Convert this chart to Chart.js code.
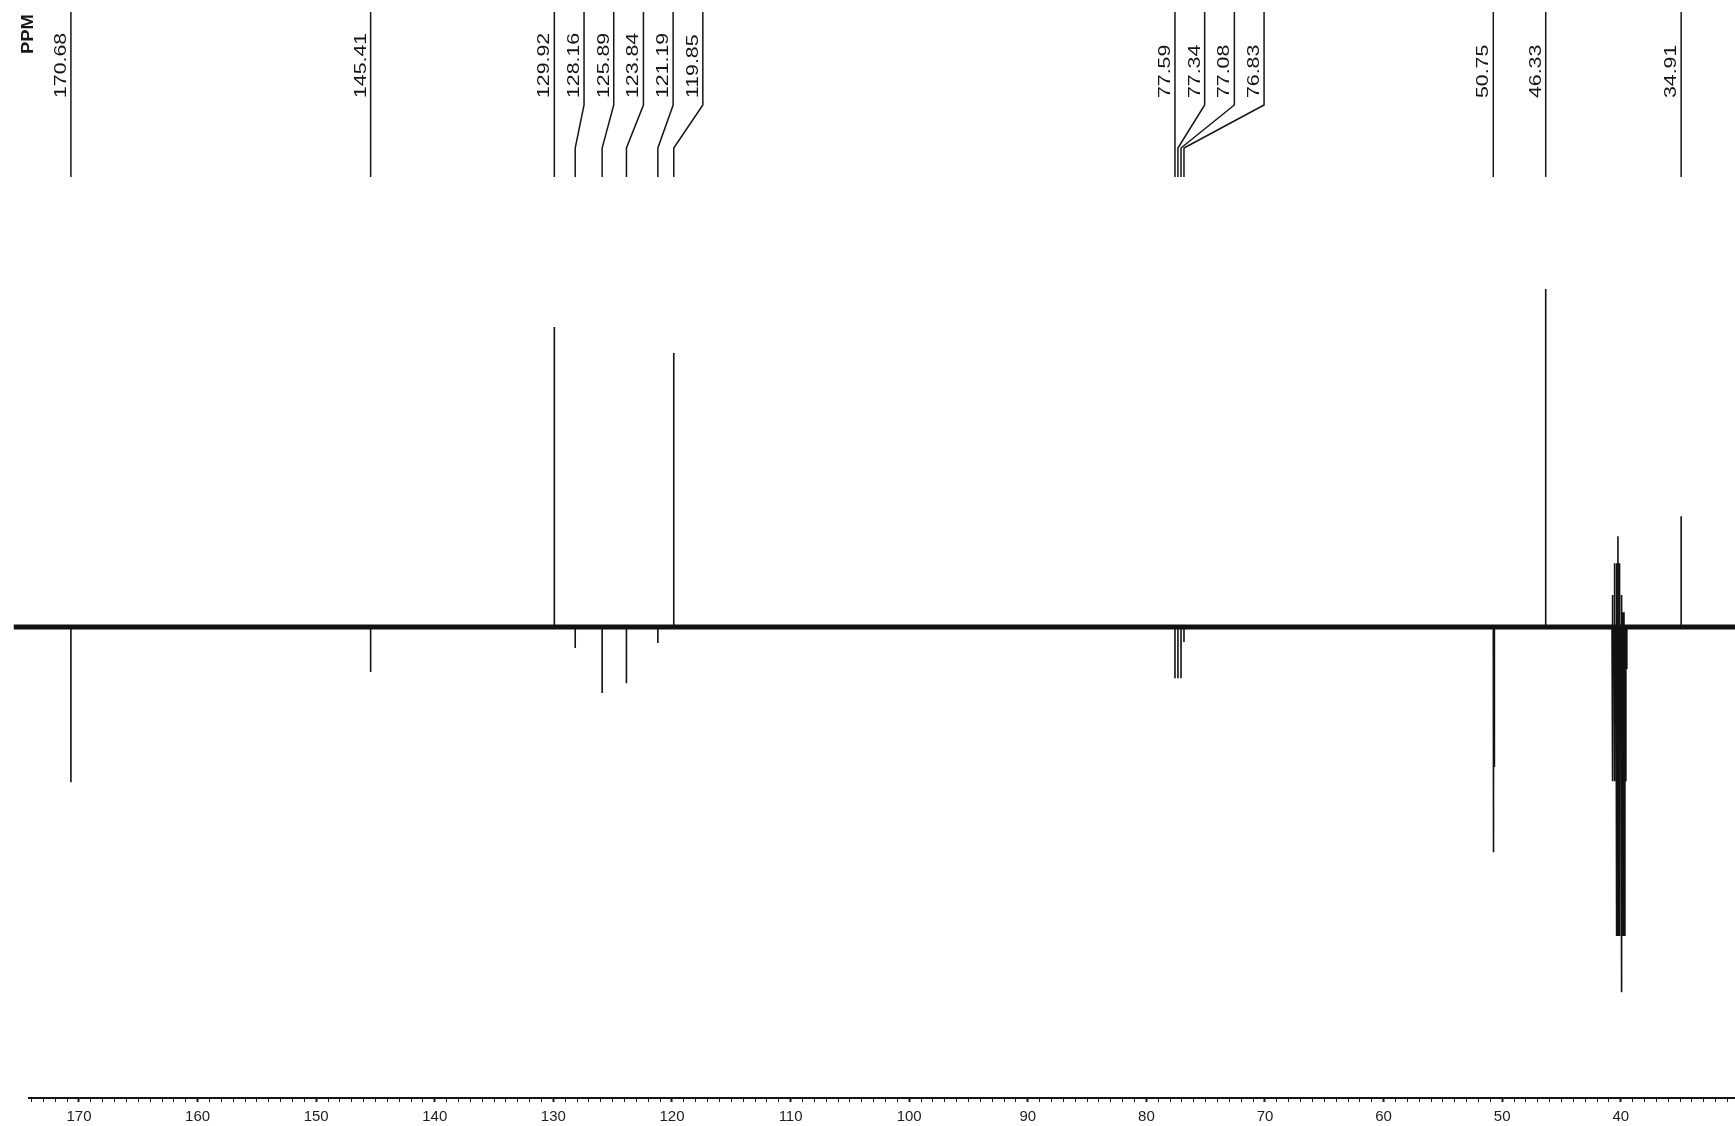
<!DOCTYPE html>
<html>
<head>
<meta charset="utf-8">
<script src="https://cdn.jsdelivr.net/npm/chart.js@4.4.1/dist/chart.umd.min.js"></script>
<style>
  html, body { margin: 0; padding: 0; background: #fff; }
  #wrap { width: 1735px; height: 1126px; position: relative; }
</style>
</head>
<body>
<div id="wrap"><canvas id="nmrChart"></canvas></div>
<script>
// Peaks (ppm) and heights, scaled so the 46.33 peak = 100
const peakPpm = [170.68, 145.41, 129.92, 128.16, 125.89, 123.84, 121.19, 119.85, 77.59, 77.34, 77.08, 76.83, 50.75, 50.72, 50.69, 50.66, 50.63, 46.33, 34.91];
const peakInt = [-45.9, -13.3, 88.8, -6.2, -19.5, -16.6, -4.7, 81.1, -15.1, -15.1, -15.1, -4.4, -66.6, -41.4, -41.4, -41.4, -41.4, 100, 32.8];

// Solvent multiplet around 40 ppm (not labelled)
const solventPpm  = [40.74, 40.66, 40.57, 40.49, 40.40, 40.32, 40.24, 40.15, 40.07, 39.98, 39.90, 39.82, 39.73, 39.65, 39.57, 39.49];
const solventUp   = [4.4, 9.5, 9.5, 18.9, 18.9, 18.9, 26.9, 18.9, 18.9, 9.5, 4.4, 4.4, 4.4, 0, 0, 0];
const solventDown = [-12.4, -45.6, -45.6, -45.6, -45.6, -91.4, -91.4, -91.4, -91.4, -108, -91.4, -91.4, -91.4, -91.4, -45.6, -12.4];

// Shifts printed along the top
const labelPpm = [170.68, 145.41, 129.92, 128.16, 125.89, 123.84, 121.19, 119.85, 77.59, 77.34, 77.08, 76.83, 50.75, 46.33, 34.91];

// Axis
const tickLabels = [170, 160, 150, 140, 130, 120, 110, 100, 90, 80, 70, 60, 50, 40];
const baselineRange = [175.5, 30.37];
const axisStart = 174.3;

function sticks(ppm, vals) {
  const pts = [];
  ppm.forEach((p, i) => {
    pts.push({ x: p, y: 0 }, { x: p, y: vals[i] }, { x: p, y: 0 });
  });
  return pts;
}

const lineStyle = { borderColor: "#111", pointRadius: 0, tension: 0, fill: false };

// Peak labels + connector lines, axis line
const peakLabels = {
  id: "peakLabels",
  afterDraw(chart) {
    const { ctx, chartArea } = chart;
    const xs = chart.scales.x;
    const gap = 29.7;
    let prev = -Infinity;
    const pos = labelPpm.map((p) => {
      const px = xs.getPixelForValue(p);
      const lx = Math.max(px, prev + gap);
      prev = lx;
      return { p, px, lx };
    });

    ctx.save();
    ctx.strokeStyle = "#151515";
    ctx.fillStyle = "#151515";
    ctx.lineWidth = 1.5;
    pos.forEach((o) => {
      ctx.beginPath();
      ctx.moveTo(o.lx, 12);
      if (Math.abs(o.lx - o.px) > 0.5) {
        ctx.lineTo(o.lx, 105);
        ctx.lineTo(o.px, 148);
      }
      ctx.lineTo(o.px, 177);
      ctx.stroke();

      ctx.save();
      ctx.translate(o.lx - 5, 98);
      ctx.rotate(-Math.PI / 2);
      ctx.scale(1.33, 1);
      ctx.font = '16px "Liberation Sans", Arial, sans-serif';
      ctx.textAlign = "left";
      ctx.textBaseline = "alphabetic";
      ctx.fillText(o.p.toFixed(2), 0, 0);
      ctx.restore();
    });

    ctx.save();
    ctx.translate(33, 54);
    ctx.rotate(-Math.PI / 2);
    ctx.scale(1.15, 1);
    ctx.font = 'bold 16px "Liberation Sans", Arial, sans-serif';
    ctx.fillText("PPM", 0, 0);
    ctx.restore();

    // x axis line
    ctx.lineWidth = 2;
    ctx.beginPath();
    ctx.moveTo(xs.getPixelForValue(axisStart), chartArea.bottom);
    ctx.lineTo(chart.width, chartArea.bottom);
    ctx.stroke();
    ctx.restore();
  },
};

const config = {
  type: "line",
  data: {
    datasets: [
      { data: [{ x: baselineRange[0], y: 0 }, { x: baselineRange[1], y: 0 }], borderWidth: 5, ...lineStyle },
      { data: sticks(peakPpm, peakInt), borderWidth: 1.6, ...lineStyle },
      { data: sticks(solventPpm, solventUp), borderWidth: 1.6, ...lineStyle },
      { data: sticks(solventPpm, solventDown), borderWidth: 1.6, ...lineStyle },
    ],
  },
  options: {
    responsive: true,
    maintainAspectRatio: false,
    devicePixelRatio: 1,
    animation: false,
    layout: { padding: 0 },
    plugins: { legend: { display: false }, tooltip: { enabled: false } },
    scales: {
      x: {
        type: "linear",
        reverse: true,
        min: 30.37,
        max: 176.66,
        afterBuildTicks: (axis) => {
          const t = [];
          for (let v = 31; v <= 174; v++) t.push({ value: v });
          axis.ticks = t;
        },
        afterFit: (axis) => {
          axis.height = 28;
        },
        border: { display: false },
        grid: {
          drawOnChartArea: false,
          drawTicks: true,
          tickLength: 4,
          tickColor: "#1a1a1a",
          tickWidth: (c) => (c.tick && c.tick.value % 10 === 0 ? 2 : 1),
        },
        ticks: {
          autoSkip: false,
          maxRotation: 0,
          minRotation: 0,
          padding: 6,
          color: "#1e1e1e",
          font: { size: 15, family: '"Liberation Sans", Arial, sans-serif' },
          callback: (v) => (tickLabels.includes(v) ? String(v) : ""),
        },
      },
      y: {
        display: false,
        min: -139.3,
        max: 185.5,
      },
    },
  },
  plugins: [peakLabels],
};

const nmrChart = new Chart(document.getElementById("nmrChart"), config);
</script>
</body>
</html>
